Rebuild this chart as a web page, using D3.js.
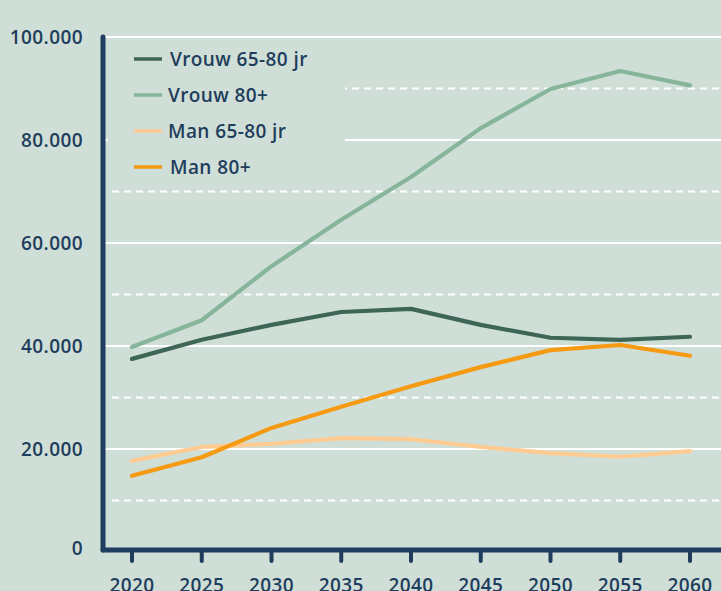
<!DOCTYPE html>
<html><head><meta charset="utf-8">
<script src="https://cdn.jsdelivr.net/npm/d3@7"></script>
<style>
html,body{margin:0;padding:0;background:#cfdfd7;}
svg{display:block;}
text{font-family:"Open Sans",sans-serif;fill:#1f3d5c;font-weight:600;letter-spacing:0.4px;}
</style></head>
<body>
<script>
const years = [2020,2025,2030,2035,2040,2045,2050,2055,2060];
const seriesNames = ["Vrouw 65-80 jr","Vrouw 80+","Man 65-80 jr","Man 80+"];
const vrouw6580 = [37500,41200,44100,46600,47200,44100,41600,41200,41800];
const vrouw80 = [39800,45000,55500,64500,72800,82300,89900,93400,90600];
const man6580 = [17700,20400,21000,22100,21900,20400,19200,18500,19600];
const man80 = [14800,18400,24100,28200,32200,35900,39200,40200,38100];
const colors = ["#3e6657","#86b59b","#fecb92","#f59a12"];
const yTicks = [0,20000,40000,60000,80000,100000];
const yMinor = [10000,30000,50000,70000,90000];

const W=721,H=591;
const svg=d3.select("body").append("svg").attr("width",W).attr("height",H);
svg.append("rect").attr("width",W).attr("height",H).attr("fill","#cfdfd7");

const x=d3.scalePoint().domain(years).range([132,690]);
const y=d3.scaleLinear().domain([0,100000]).range([552,37]);
const fmt=v=>v===0?"0":d3.format(",")(v).replace(/,/g,".");

// grid
svg.append("g").selectAll("line").data(yTicks.filter(d=>d>0)).join("line")
  .attr("x1",104).attr("x2",W).attr("y1",d=>y(d)).attr("y2",d=>y(d))
  .attr("stroke","#ffffff").attr("stroke-width",2.2);
svg.append("g").selectAll("line").data(yMinor).join("line")
  .attr("x1",112).attr("x2",W).attr("y1",d=>y(d)).attr("y2",d=>y(d))
  .attr("stroke","#ffffff").attr("stroke-width",2).attr("stroke-dasharray","7,5");

// legend background
svg.append("rect").attr("x",108).attr("y",43).attr("width",237).attr("height",142).attr("fill","#cfdfd7");

// y axis labels
svg.append("g").selectAll("text").data(yTicks).join("text")
  .attr("x",83).attr("y",d=>d===0?y(d)-4:y(d)).attr("dy","0.36em").attr("text-anchor","end")
  .attr("font-size",19).text(fmt);

// lines
const allData=[vrouw6580,vrouw80,man6580,man80];
const line=d3.line().x((d,i)=>x(years[i])).y(d=>y(d));
svg.append("g").selectAll("path").data(allData).join("path")
  .attr("d",line).attr("fill","none").attr("stroke",(d,i)=>colors[i])
  .attr("stroke-width",4.2).attr("stroke-linecap","round").attr("stroke-linejoin","round");

// axes
const axisColor="#1f3d5c";
svg.append("line").attr("x1",103).attr("x2",103).attr("y1",y(100000)).attr("y2",550)
  .attr("stroke",axisColor).attr("stroke-width",5).attr("stroke-linecap","round");
svg.append("line").attr("x1",103).attr("x2",W+5).attr("y1",550).attr("y2",550)
  .attr("stroke",axisColor).attr("stroke-width",5).attr("stroke-linecap","round");
svg.append("g").selectAll("line").data(years).join("line")
  .attr("x1",d=>x(d)).attr("x2",d=>x(d)).attr("y1",550).attr("y2",561)
  .attr("stroke",axisColor).attr("stroke-width",4).attr("stroke-linecap","round");
svg.append("g").selectAll("text").data(years).join("text")
  .attr("x",d=>x(d)).attr("y",592).attr("text-anchor","middle").attr("font-size",19).text(d=>d);

// legend
const leg=svg.append("g").selectAll("g").data(seriesNames).join("g")
  .attr("transform",(d,i)=>`translate(0,${59+i*36})`);
leg.append("line").attr("x1",134).attr("x2",162).attr("stroke",(d,i)=>colors[i]).attr("stroke-width",3.5);
leg.append("text").attr("x",(d,i)=>i===0||i===3?170:168).attr("dy","0.36em").attr("font-size",19).attr("font-weight",500).text(d=>d);
</script>
</body></html>
